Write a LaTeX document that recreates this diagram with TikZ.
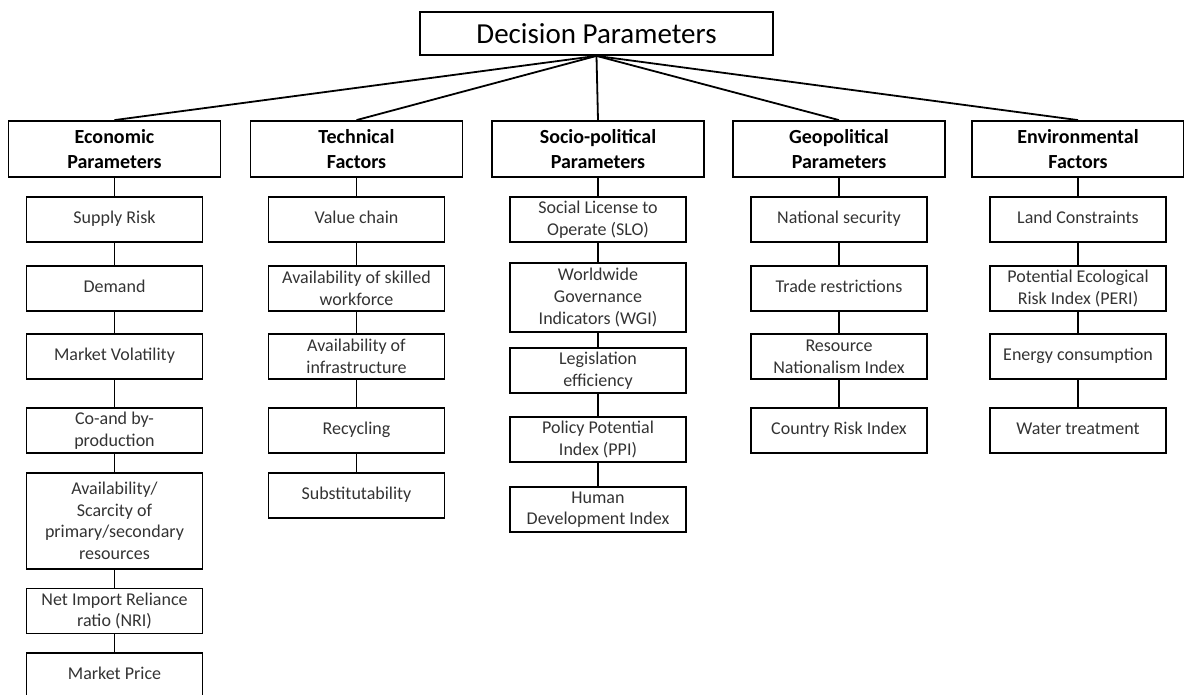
\documentclass[tikz,border=0pt]{standalone}
\usepackage{fontspec}
\setmainfont{Carlito}
\usepackage{tikz}
\usetikzlibrary{positioning}
\definecolor{crittext}{HTML}{333333}

\begin{document}
\begin{tikzpicture}[
    x=1pt, y=-1pt, line width=1.8pt,
    mainbox/.style={rectangle, draw=black, minimum width=353, minimum height=43, inner sep=0pt, font=\fontsize{29}{34}\selectfont},
    category/.style={rectangle, draw=black, minimum width=212, minimum height=56, align=center, inner sep=0pt, font=\fontsize{20}{24.5}\selectfont\bfseries},
    criterion/.style={rectangle, draw=black, minimum width=176, minimum height=45, align=center, inner sep=0pt, text=crittext, font=\fontsize{18}{21.6}\selectfont}
]
\useasboundingbox (0,0) rectangle (1184,695);

% Root
\node[mainbox] (root) at (596.5, 33.5) {Decision Parameters};

% Categories
\node[category] (econ) at (114.5, 149) {Economic\\Parameters};
\node[category] (tech) at (356.5, 149) {Technical\\Factors};
\node[category] (socio) at (598, 149) {Socio-political\\Parameters};
\node[category] (geo) at (839, 149) {Geopolitical\\Parameters};
\node[category] (env) at (1078, 149) {Environmental\\Factors};

% Column 1
\node[criterion] (supply) at (114.5, 219.5) {Supply Risk\strut};
\node[criterion] (demand) at (114.5, 288.5) {Demand\strut};
\node[criterion] (volatility) at (114.5, 356.5) {Market Volatility\strut};
\node[criterion] (coprod) at (114.5, 430.5) {Co-and by-\\production};
\node[criterion, minimum height=96] (scarcity) at (114.5, 521) {Availability/\\Scarcity of\\primary/secondary\\resources};
\node[criterion] (nri) at (114.5, 611) {Net Import Reliance\\ratio (NRI)};
\node[criterion] (price) at (114.5, 675.5) {Market Price\strut};

% Column 2
\node[criterion] (valuechain) at (356.5, 219.5) {Value chain\strut};
\node[criterion] (workforce) at (356.5, 288.5) {Availability of skilled\\workforce};
\node[criterion] (infra) at (356.5, 356.5) {Availability of\\infrastructure};
\node[criterion] (recycling) at (356.5, 430.5) {Recycling\strut};
\node[criterion] (subst) at (356.5, 495.5) {Substitutability\strut};

% Column 3
\node[criterion] (slo) at (598, 219.5) {Social License to\\Operate (SLO)};
\node[criterion, minimum height=69] (wgi) at (598, 297.5) {Worldwide\\Governance\\Indicators (WGI)};
\node[criterion] (legis) at (598, 370.5) {Legislation\\efficiency};
\node[criterion] (ppi) at (598, 439.5) {Policy Potential\\Index (PPI)};
\node[criterion] (hdi) at (598, 509.5) {Human\\Development Index};

% Column 4
\node[criterion] (natsec) at (839, 219.5) {National security\strut};
\node[criterion] (trade) at (839, 288.5) {Trade restrictions\strut};
\node[criterion] (resnat) at (839, 356.5) {Resource\\Nationalism Index};
\node[criterion] (countryrisk) at (839, 430.5) {Country Risk Index\strut};

% Column 5
\node[criterion] (land) at (1078, 219.5) {Land Constraints\strut};
\node[criterion] (peri) at (1078, 288.5) {Potential Ecological\\Risk Index (PERI)};
\node[criterion] (energy) at (1078, 356.5) {Energy consumption\strut};
\node[criterion] (water) at (1078, 430.5) {Water treatment\strut};

% Connections
\draw (root.south) -- (econ.north);
\draw (root.south) -- (tech.north);
\draw (root.south) -- (socio.north);
\draw (root.south) -- (geo.north);
\draw (root.south) -- (env.north);

\draw (econ) -- (supply) -- (demand) -- (volatility) -- (coprod) -- (scarcity) -- (nri) -- (price);
\draw (tech) -- (valuechain) -- (workforce) -- (infra) -- (recycling) -- (subst);
\draw (socio) -- (slo) -- (wgi) -- (legis) -- (ppi) -- (hdi);
\draw (geo) -- (natsec) -- (trade) -- (resnat) -- (countryrisk);
\draw (env) -- (land) -- (peri) -- (energy) -- (water);
\end{tikzpicture}
\end{document}
